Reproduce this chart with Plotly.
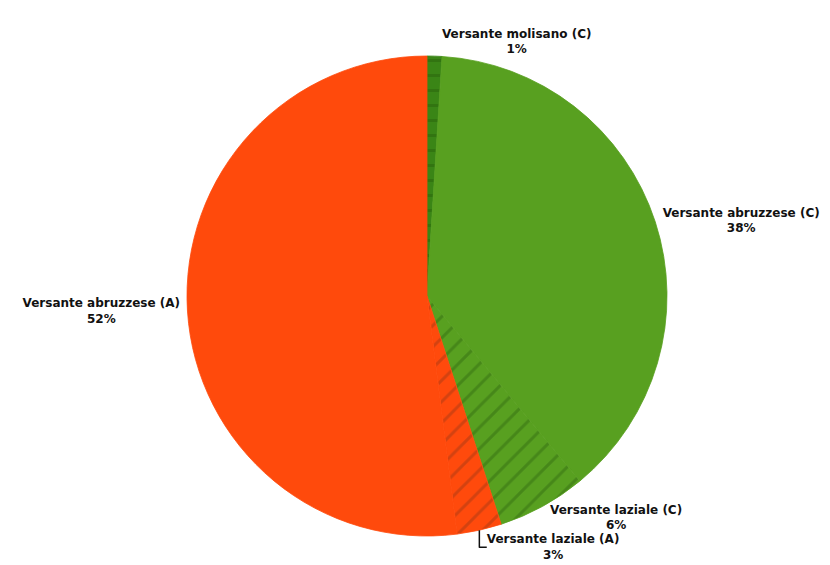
import plotly.graph_objects as go

labels = ["Versante molisano (C)", "Versante abruzzese (C)", "Versante laziale (C)",
          "Versante laziale (A)", "Versante abruzzese (A)"]
values = [1, 38, 6, 3, 52]
colors = ["#3a8516", "#58a020", "#58a020", "#ff4a0c", "#ff4a0c"]
shapes = ["-", "", "/", "/", ""]
fgcolors = ["#2a640c", "#58a020", "#346e12", "#a83a14", "#ff4a0c"]

cx, cy, r = 427 - 8, 295 - 7, 240
fig = go.Figure(go.Pie(
    labels=labels,
    values=values,
    sort=False,
    direction="clockwise",
    rotation=0,
    texttemplate="%{label}<br>%{percent:.0%}",
    textposition="outside",
    outsidetextfont=dict(family="DejaVu Sans", size=12, color="#111111", weight="bold"),
    marker=dict(colors=colors,
                line=dict(width=0.8, color=colors),
                pattern=dict(shape=shapes, fgcolor=fgcolors, bgcolor=colors,
                             size=15, solidity=0.2, fillmode="overlay")),
    domain=dict(x=[(cx - r) / 830, (cx + r) / 830], y=[1 - (cy + r) / 565, 1 - (cy - r) / 565]),
    showlegend=False,
    hoverinfo="label+percent",
))

fig.update_layout(
    width=830, height=565,
    margin=dict(l=0, r=0, t=0, b=0),
    paper_bgcolor="white",
    plot_bgcolor="white",
    font=dict(family="DejaVu Sans"),
)

fig.write_html("out.html")
